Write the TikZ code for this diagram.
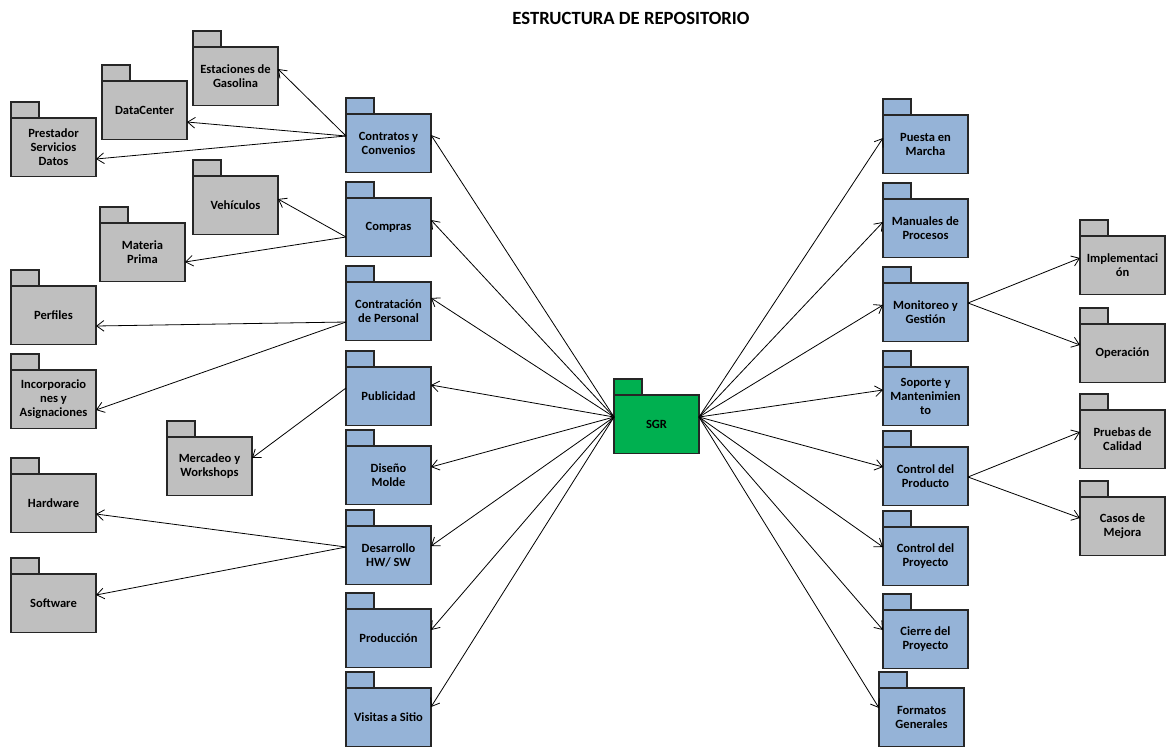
\documentclass[tikz,border=0pt]{standalone}
\usepackage{fontspec}
\setmainfont{Carlito}
\usetikzlibrary{arrows.meta,calc}
\definecolor{pkgblue}{HTML}{95B3D7}
\definecolor{pkggray}{HTML}{BFBFBF}
\definecolor{pkggreen}{HTML}{00B050}
\definecolor{pkgedge}{HTML}{262626}
\tikzset{
  pkgline/.style={draw=pkgedge, line width=0.9pt},
  pkgbody/.style={pkgline, rectangle, inner sep=0pt, outer sep=0pt,
    minimum width=63.75pt, minimum height=43.9pt, align=center,
    font=\fontsize{9.4}{10.6}\selectfont\bfseries},
  dep/.style={draw=black, line width=0.6pt, -{Straight Barb[length=5.5pt,width=8pt,line width=0.6pt]}},
}
% name, x, y (top of body, px), fill, text
\newcommand\pkgbox[5]{%
  \draw[pkgline, fill=#4] (#2,#3) rectangle ++(28,-16);
  \node[pkgbody, fill=#4, anchor=north west] (#1) at (#2,#3) {#5};
}
\newcommand\pE[2]{($(#1.north east)+(0,#2)$)}
\newcommand\pW[2]{($(#1.north west)+(0,#2)$)}
\begin{document}
\begin{tikzpicture}[x=0.75pt,y=-0.75pt]
\useasboundingbox (0,0) rectangle (1166,747);
\node[font=\fontsize{14}{16}\selectfont\bfseries] (title) at (631,18) {ESTRUCTURA DE REPOSITORIO};
% left gray
\pkgbox{est}{193}{47}{pkggray}{Estaciones de\\Gasolina}
\pkgbox{dc}{102}{81}{pkggray}{DataCenter}
\pkgbox{prest}{11}{118}{pkggray}{Prestador\\Servicios\\Datos}
\pkgbox{veh}{193}{176}{pkggray}{Vehículos}
\pkgbox{mat}{100}{223}{pkggray}{Materia\\Prima}
\pkgbox{perf}{11}{286}{pkggray}{Perfiles}
\pkgbox{inc}{11}{370}{pkggray}{Incorporacio\\nes y\\Asignaciones}
\pkgbox{merc}{167}{437}{pkggray}{Mercadeo y\\Workshops}
\pkgbox{hw}{11}{474}{pkggray}{Hardware}
\pkgbox{sw}{11}{574}{pkggray}{Software}
% left blue
\pkgbox{cyc}{346}{114}{pkgblue}{Contratos y\\Convenios}
\pkgbox{comp}{346}{198}{pkgblue}{Compras}
\pkgbox{cont}{346}{282}{pkgblue}{Contratación\\de Personal}
\pkgbox{pub}{346}{367}{pkgblue}{Publicidad}
\pkgbox{dis}{346}{446}{pkgblue}{Diseño\\Molde}
\pkgbox{des}{346}{526}{pkgblue}{Desarrollo\\HW/ SW}
\pkgbox{prod}{346}{609}{pkgblue}{Producción}
\pkgbox{vis}{346}{688}{pkgblue}{Visitas a Sitio}
% center
\pkgbox{sgr}{614}{395}{pkggreen}{SGR}
% right blue
\pkgbox{pue}{883}{115}{pkgblue}{Puesta en\\Marcha}
\pkgbox{man}{883}{199}{pkgblue}{Manuales de\\Procesos}
\pkgbox{mon}{883}{283}{pkgblue}{Monitoreo y\\Gestión}
\pkgbox{sop}{883}{367}{pkgblue}{Soporte y\\Mantenimien\\to}
\pkgbox{cpr}{883}{447}{pkgblue}{Control del\\Producto}
\pkgbox{cpy}{883}{527}{pkgblue}{Control del\\Proyecto}
\pkgbox{cie}{883}{610}{pkgblue}{Cierre del\\Proyecto}
\pkgbox{fmt}{879}{688}{pkgblue}{Formatos\\Generales}
% right gray
\pkgbox{imp}{1080}{236}{pkggray}{Implementaci\\ón}
\pkgbox{ope}{1080}{324}{pkggray}{Operación}
\pkgbox{pru}{1080}{410}{pkggray}{Pruebas de\\Calidad}
\pkgbox{cas}{1080}{497}{pkggray}{Casos de\\Mejora}
% SGR to left blue
\draw[dep] \pW{sgr}{22} -- \pE{cyc}{21};
\draw[dep] \pW{sgr}{22} -- \pE{comp}{22};
\draw[dep] \pW{sgr}{22} -- \pE{cont}{16};
\draw[dep] \pW{sgr}{22} -- \pE{pub}{18};
\draw[dep] \pW{sgr}{22} -- \pE{dis}{21};
\draw[dep] \pW{sgr}{22} -- \pE{des}{20};
\draw[dep] \pW{sgr}{22} -- \pE{prod}{21};
\draw[dep] \pW{sgr}{22} -- \pE{vis}{19};
% SGR to right blue
\draw[dep] \pE{sgr}{22} -- \pW{pue}{23};
\draw[dep] \pE{sgr}{22} -- \pW{man}{23};
\draw[dep] \pE{sgr}{22} -- \pW{mon}{22};
\draw[dep] \pE{sgr}{22} -- \pW{sop}{23};
\draw[dep] \pE{sgr}{22} -- \pW{cpr}{20};
\draw[dep] \pE{sgr}{22} -- \pW{cpy}{20};
\draw[dep] \pE{sgr}{22} -- \pW{cie}{20};
\draw[dep] \pE{sgr}{22} -- \pW{fmt}{20};
% secondary left
\draw[dep] \pW{cyc}{22} -- \pE{est}{22};
\draw[dep] \pW{cyc}{22} -- \pE{dc}{41};
\draw[dep] \pW{cyc}{22} -- \pE{prest}{41};
\draw[dep] \pW{comp}{39} -- \pE{veh}{23};
\draw[dep] \pW{comp}{39} -- \pE{mat}{39};
\draw[dep] \pW{cont}{40} -- \pE{perf}{40};
\draw[dep] \pW{cont}{40} -- \pE{inc}{40};
\draw[dep] \pW{pub}{21} -- \pE{merc}{21};
\draw[dep] \pW{des}{21} -- \pE{hw}{40};
\draw[dep] \pW{des}{21} -- \pE{sw}{21};
% secondary right
\draw[dep] \pE{mon}{20} -- \pW{imp}{22};
\draw[dep] \pE{mon}{20} -- \pW{ope}{21};
\draw[dep] \pE{cpr}{30} -- \pW{pru}{22};
\draw[dep] \pE{cpr}{30} -- \pW{cas}{21};
\end{tikzpicture}
\end{document}
